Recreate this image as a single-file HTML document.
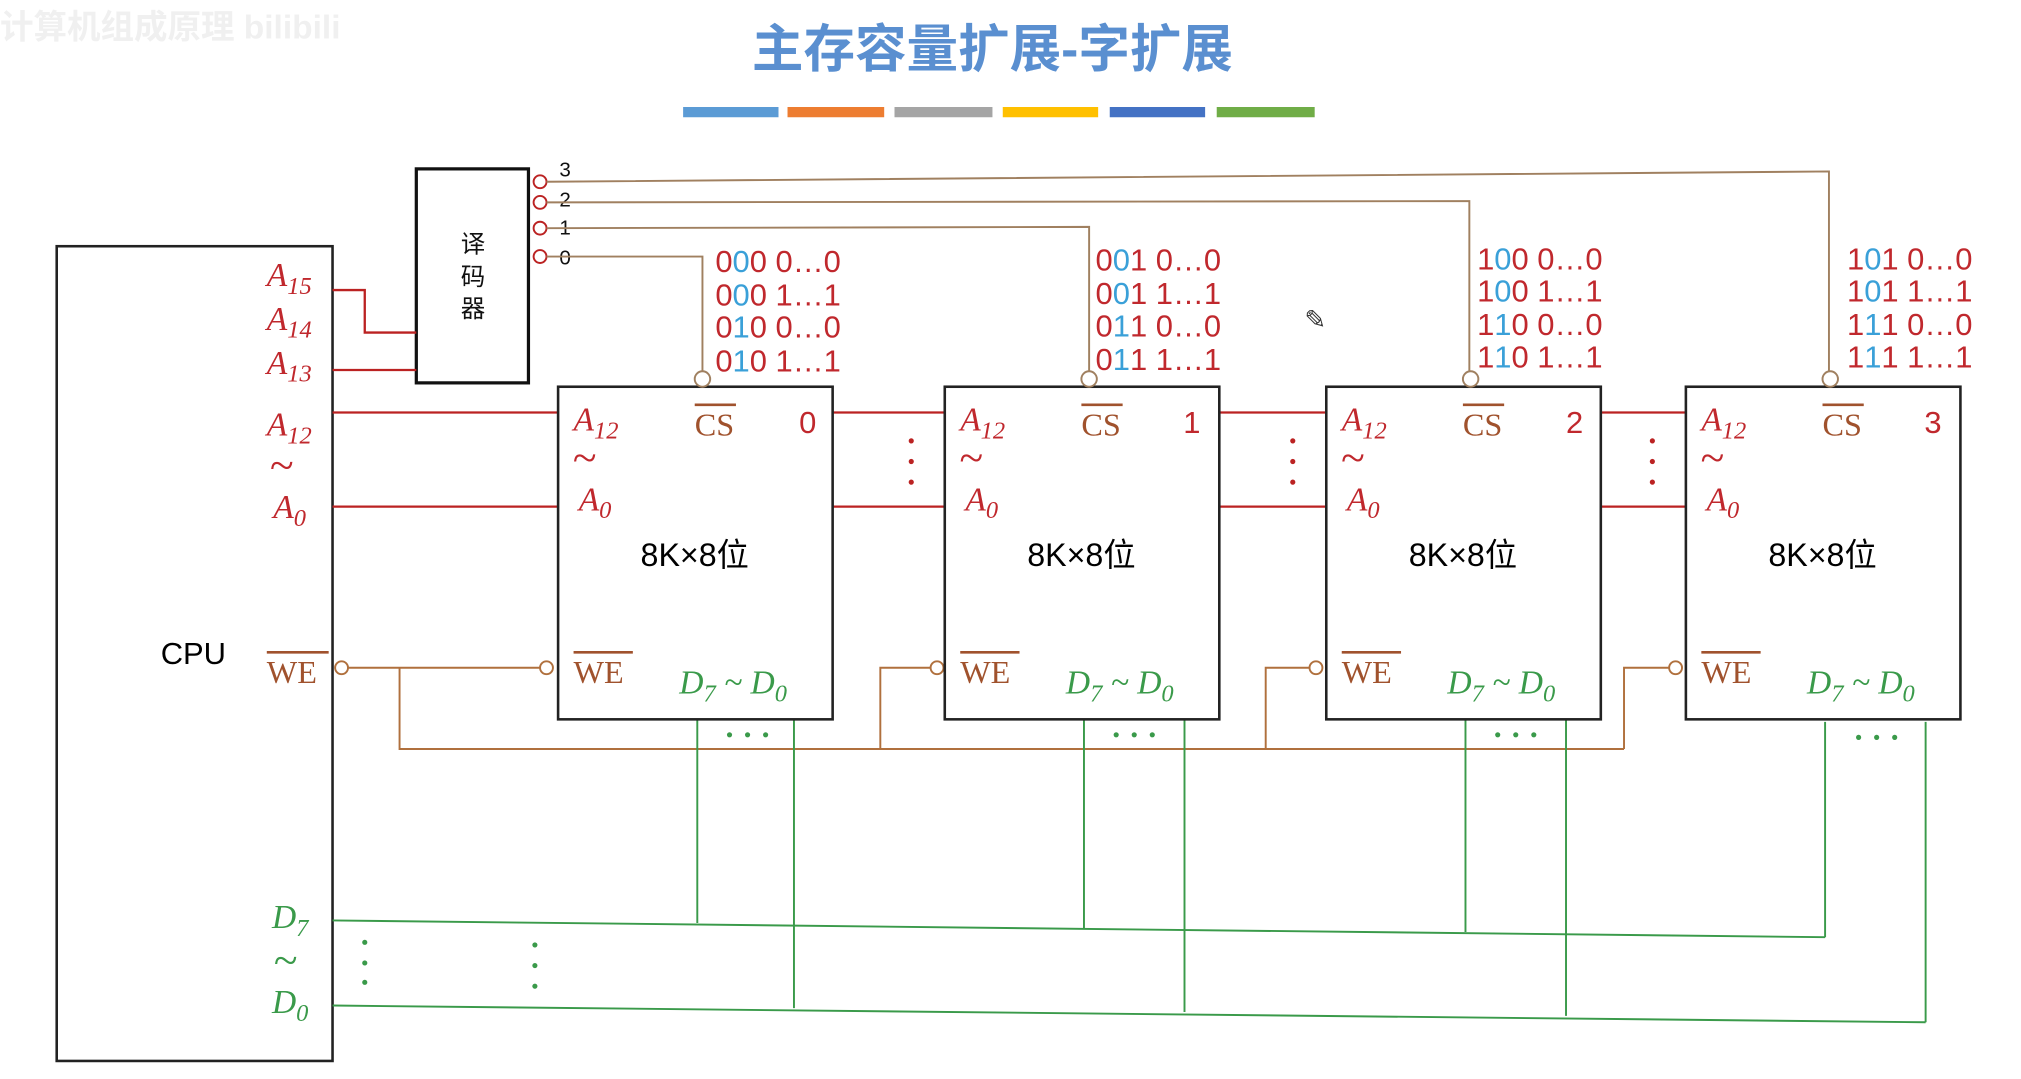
<!DOCTYPE html>
<html><head><meta charset="utf-8"><style>
html,body{margin:0;padding:0;background:#fff;}
svg{display:block;}
.it{font-family:"Liberation Serif",serif;font-style:italic;}
.cj{font-family:"Liberation Sans","Noto Sans CJK SC",sans-serif;}
</style></head><body>
<svg width="2021" height="1079" viewBox="0 0 1568 837" preserveAspectRatio="none" xmlns="http://www.w3.org/2000/svg">
<rect width="1568" height="837" fill="#fff"/>
<text x="0" y="30" class="cj" font-size="26" font-weight="bold" fill="#f0f0f0">计算机组成原理 bilibili</text>
<text x="770" y="52" text-anchor="middle" class="cj" font-size="40" font-weight="bold" fill="#5a8fd0">主存容量扩展-字扩展</text>
<g stroke-width="8">
<line x1="530" y1="87" x2="604" y2="87" stroke="#5b9bd5"/>
<line x1="611" y1="87" x2="686" y2="87" stroke="#ed7d31"/>
<line x1="694" y1="87" x2="770" y2="87" stroke="#a5a5a5"/>
<line x1="778" y1="87" x2="852" y2="87" stroke="#ffc000"/>
<line x1="861" y1="87" x2="935" y2="87" stroke="#4472c4"/>
<line x1="944" y1="87" x2="1020" y2="87" stroke="#70ad47"/>
</g>

<rect x="44" y="191" width="214" height="632" fill="none" stroke="#222" stroke-width="2"/>
<text x="150" y="515" text-anchor="middle" class="cj" font-size="24" fill="#000">CPU</text>

<rect x="323" y="131" width="87" height="166" fill="none" stroke="#111" stroke-width="2.5"/>
<g class="cj" font-size="19" fill="#111" text-anchor="middle">
<text x="367" y="196">译</text><text x="367" y="221">码</text><text x="367" y="246">器</text>
</g>
<g fill="none" stroke="#b22" stroke-width="1.5">
<circle cx="419" cy="141" r="5"/><circle cx="419" cy="157" r="5"/><circle cx="419" cy="177" r="5"/><circle cx="419" cy="199" r="5"/>
</g>
<g class="cj" font-size="16" fill="#111">
<text x="434" y="137">3</text><text x="434" y="160">2</text><text x="434" y="182">1</text><text x="434" y="205">0</text>
</g>
<g fill="none" stroke="#a08060" stroke-width="1.5">
<polyline points="424,141 1419,133 1419,288"/>
<polyline points="424,157 1140,156 1140,288"/>
<polyline points="424,177 845,176 845,288"/>
<polyline points="424,199 545,199 545,288"/>
</g>

<g class="it" font-size="26" fill="#c0282d">
<text x="207" y="222">A<tspan font-size="19" dy="6">15</tspan></text>
<text x="207" y="256">A<tspan font-size="19" dy="6">14</tspan></text>
<text x="207" y="290">A<tspan font-size="19" dy="6">13</tspan></text>
<text x="207" y="338">A<tspan font-size="19" dy="6">12</tspan></text>
<text x="209" y="372" font-size="34">~</text>
<text x="212" y="402">A<tspan font-size="19" dy="6">0</tspan></text>
</g>
<text x="207" y="530" font-family="Liberation Serif,serif" font-size="25" fill="#a0522d">WE</text>
<line x1="207" y1="506" x2="255" y2="506" stroke="#a0522d" stroke-width="2"/>
<g class="it" font-size="26" fill="#3a9a4a">
<text x="211" y="720">D<tspan font-size="19" dy="6">7</tspan></text>
<text x="212" y="756" font-size="34">~</text>
<text x="211" y="786">D<tspan font-size="19" dy="6">0</tspan></text>
</g>

<g fill="none" stroke="#b22" stroke-width="1.8">
<polyline points="258,225 283,225 283,258 323,258"/>
<line x1="258" y1="287" x2="323" y2="287"/>
<line x1="258" y1="320" x2="433" y2="320"/>
<line x1="258" y1="393" x2="433" y2="393"/>
<line x1="646" y1="320" x2="733" y2="320"/><line x1="646" y1="393" x2="733" y2="393"/>
<line x1="946" y1="320" x2="1029" y2="320"/><line x1="946" y1="393" x2="1029" y2="393"/>
<line x1="1242" y1="320" x2="1308" y2="320"/><line x1="1242" y1="393" x2="1308" y2="393"/>
</g>
<g fill="#b22">
<circle cx="707" cy="342" r="2"/><circle cx="707" cy="358" r="2"/><circle cx="707" cy="374" r="2"/>
<circle cx="1003" cy="342" r="2"/><circle cx="1003" cy="358" r="2"/><circle cx="1003" cy="374" r="2"/>
<circle cx="1282" cy="342" r="2"/><circle cx="1282" cy="358" r="2"/><circle cx="1282" cy="374" r="2"/>
</g>

<g fill="none" stroke="#b0703d" stroke-width="1.5">
<circle cx="265" cy="518" r="5"/>
<line x1="270" y1="518" x2="419" y2="518"/><circle cx="424" cy="518" r="5"/>
<polyline points="310,518 310,581 1260,581"/>
<polyline points="683,581 683,518 722,518"/><circle cx="727" cy="518" r="5"/>
<polyline points="982,581 982,518 1016,518"/><circle cx="1021" cy="518" r="5"/>
<polyline points="1260,581 1260,518 1295,518"/><circle cx="1300" cy="518" r="5"/>
</g>

<g fill="none" stroke="#3a9a4a" stroke-width="1.5">
<line x1="258" y1="714" x2="1416" y2="727"/>
<line x1="258" y1="780" x2="1494" y2="793"/>
<line x1="541" y1="558" x2="541" y2="716"/><line x1="616" y1="558" x2="616" y2="782"/>
<line x1="841" y1="558" x2="841" y2="720"/><line x1="919" y1="558" x2="919" y2="785"/>
<line x1="1137" y1="558" x2="1137" y2="723"/><line x1="1215" y1="558" x2="1215" y2="788"/>
<line x1="1416" y1="560" x2="1416" y2="727"/><line x1="1494" y1="560" x2="1494" y2="793"/>
</g>
<g fill="#3a9a4a">
<circle cx="283" cy="731" r="2"/><circle cx="283" cy="747" r="2"/><circle cx="283" cy="762" r="2"/>
<circle cx="415" cy="733" r="2"/><circle cx="415" cy="749" r="2"/><circle cx="415" cy="765" r="2"/>
<circle cx="566" cy="570" r="2"/><circle cx="580" cy="570" r="2"/><circle cx="594" cy="570" r="2"/>
<circle cx="866" cy="570" r="2"/><circle cx="880" cy="570" r="2"/><circle cx="894" cy="570" r="2"/>
<circle cx="1162" cy="570" r="2"/><circle cx="1176" cy="570" r="2"/><circle cx="1190" cy="570" r="2"/>
<circle cx="1442" cy="572" r="2"/><circle cx="1456" cy="572" r="2"/><circle cx="1470" cy="572" r="2"/>
</g>

<defs>
<g id="chip">
<rect x="0" y="0" width="213" height="258" fill="#fff" stroke="#222" stroke-width="2"/>
<circle cx="112" cy="-6" r="6" fill="#fff" stroke="#a08060" stroke-width="1.5"/>
<g class="it" font-size="26" fill="#c0282d">
<text x="12" y="34">A<tspan font-size="19" dy="6">12</tspan></text>
<text x="11" y="66" font-size="34">~</text>
<text x="16" y="96">A<tspan font-size="19" dy="6">0</tspan></text>
</g>
<text x="106" y="38" font-family="Liberation Serif,serif" font-size="25" fill="#a0522d">CS</text>
<line x1="106" y1="14" x2="138" y2="14" stroke="#a0522d" stroke-width="2"/>
<text x="12" y="230" font-family="Liberation Serif,serif" font-size="25" fill="#a0522d">WE</text>
<line x1="12" y1="206" x2="58" y2="206" stroke="#a0522d" stroke-width="2"/>
<text x="94" y="238" class="it" font-size="26" fill="#3a9a4a">D<tspan font-size="19" dy="6">7</tspan><tspan dy="-6"> ~ D</tspan><tspan font-size="19" dy="6">0</tspan></text>
<text x="106" y="139" text-anchor="middle" class="cj" font-size="25" fill="#000">8K×8位</text>
</g>
</defs>
<use href="#chip" x="433" y="300"/>
<use href="#chip" x="733" y="300"/>
<use href="#chip" x="1029" y="300"/>
<use href="#chip" x="1308" y="300"/>
<g class="cj" font-size="24" fill="#c0282d">
<text x="620" y="336">0</text><text x="918" y="336">1</text><text x="1215" y="336">2</text><text x="1493" y="336">3</text>
</g>

<g class="cj" font-size="24" fill="#c0282d">
<text x="555" y="211">0<tspan fill="#3aa0d8">0</tspan>0 0…0</text>
<text x="555" y="237">0<tspan fill="#3aa0d8">0</tspan>0 1…1</text>
<text x="555" y="262">0<tspan fill="#3aa0d8">1</tspan>0 0…0</text>
<text x="555" y="288">0<tspan fill="#3aa0d8">1</tspan>0 1…1</text>
<text x="850" y="210">0<tspan fill="#3aa0d8">0</tspan>1 0…0</text>
<text x="850" y="236">0<tspan fill="#3aa0d8">0</tspan>1 1…1</text>
<text x="850" y="261">0<tspan fill="#3aa0d8">1</tspan>1 0…0</text>
<text x="850" y="287">0<tspan fill="#3aa0d8">1</tspan>1 1…1</text>
<text x="1146" y="209">1<tspan fill="#3aa0d8">0</tspan>0 0…0</text>
<text x="1146" y="234">1<tspan fill="#3aa0d8">0</tspan>0 1…1</text>
<text x="1146" y="260">1<tspan fill="#3aa0d8">1</tspan>0 0…0</text>
<text x="1146" y="285">1<tspan fill="#3aa0d8">1</tspan>0 1…1</text>
<text x="1433" y="209">1<tspan fill="#3aa0d8">0</tspan>1 0…0</text>
<text x="1433" y="234">1<tspan fill="#3aa0d8">0</tspan>1 1…1</text>
<text x="1433" y="260">1<tspan fill="#3aa0d8">1</tspan>1 0…0</text>
<text x="1433" y="285">1<tspan fill="#3aa0d8">1</tspan>1 1…1</text>
</g>
<text x="1012" y="255" font-size="20" fill="#333">✎</text>
</svg>
</body></html>
